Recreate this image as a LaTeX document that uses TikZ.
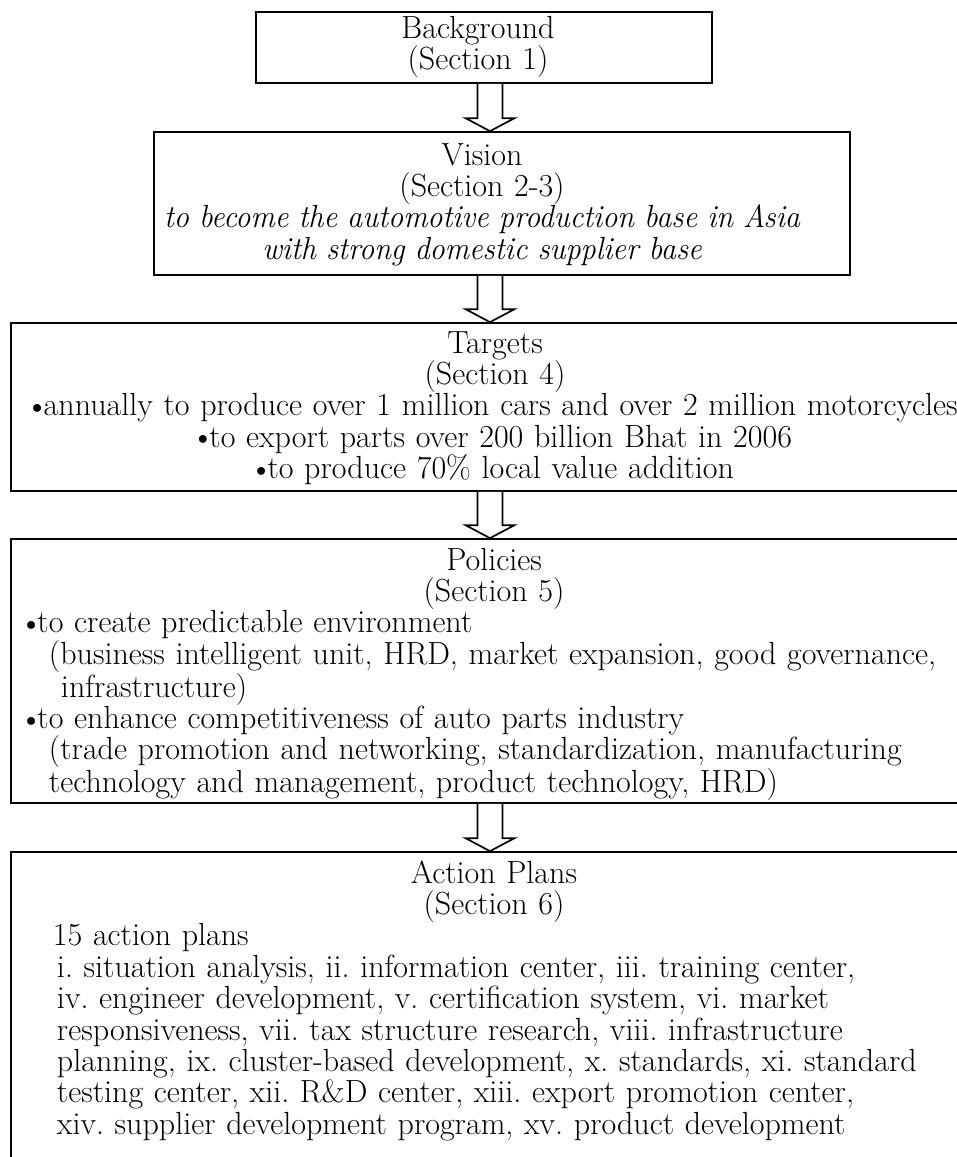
\documentclass[tikz,border=0pt]{standalone}
\usetikzlibrary{calc}
\newlength\reflen
\newcommand\bul{\raisebox{0.08em}{\scalebox{0.82}{$\bullet$}}\hspace{0.04em}}
\newcommand\itl[1]{\scalebox{0.946}[1]{\itshape #1}}
\newcommand\blockarrow[2]{%
  \draw[blockarr] ($(#1)+(-12.5,0)$) -- ($(#2)+(-12.5,-13)$) -- ($(#2)+(-24.5,-13)$)
    -- (#2) -- ($(#2)+(24.5,-13)$) -- ($(#2)+(12.5,-13)$) -- ($(#1)+(12.5,0)$);}
\begin{document}
\frenchspacing
\settowidth\reflen{\fontsize{20}{20}\selectfont annually to produce over 1 million cars and over 2 million motorcycles}
\pgfmathsetmacro\fsz{(903/\reflen)*20}
\begin{tikzpicture}[x=1pt,y=-1pt,
  box/.style={draw=black, line width=1.7pt, inner sep=0pt, rectangle},
  blockarr/.style={draw=black, fill=white, line width=1.7pt, line join=miter},
  txt/.style={font=\fontsize{\fsz}{31.4}\selectfont\frenchspacing, inner sep=0pt, anchor=base}]
\useasboundingbox (0,0) rectangle (957,1157);
\clip (0,0) rectangle (957,1157);
\fill[white] (0,0) rectangle (957,1157);
% boxes
\node[box, minimum width=456pt, minimum height=71pt] (bg) at (484,47.5) {};
\node[box, minimum width=696pt, minimum height=143pt] (vis) at (502,203.5) {};
\node[box, minimum width=966pt, minimum height=168pt] (tgt) at (494,407) {};
\node[box, minimum width=966pt, minimum height=264pt] (pol) at (494,671) {};
\node[box, minimum width=966pt, minimum height=340pt] (act) at (494,1022) {};
% texts
\node[txt, text width=440pt, align=center] (bgt) at (478,38) {Background\\(Section 1)};
\node[txt, text width=690pt, align=center] (vist) at (482,165) {Vision\\(Section 2-3)\\\itl{to become the automotive production base in Asia}\\\itl{with strong domestic supplier base}};
\node[txt, text width=960pt, align=center] (tgtt) at (495,353) {Targets\\(Section 4)\\\bul annually to produce over 1 million cars and over 2 million motorcycles\\\bul to export parts over 200 billion Bhat in 2006\\\bul to produce 70\% local value addition};
\node[txt, text width=966pt] (polt) at (494,570) {{\centering Policies\\(Section 5)\par}\raggedright
\hspace*{15pt}\bul to create predictable environment\\
\hspace*{38pt}(business intelligent unit, HRD, market expansion, good governance,\\
\hspace*{50pt}infrastructure)\\
\hspace*{15pt}\bul to enhance competitiveness of auto parts industry\\
\hspace*{38pt}(trade promotion and networking, standardization, manufacturing\\
\hspace*{38pt}technology and management, product technology, HRD)};
\node[txt, text width=966pt] (actt) at (494,883) {{\centering Action Plans\\(Section 6)\par}\raggedright
\hspace*{42pt}15 action plans\\
\hspace*{46pt}i. situation analysis, ii. information center, iii. training center,\\
\hspace*{46pt}iv. engineer development, v. certification system, vi. market\\
\hspace*{46pt}responsiveness, vii. tax structure research, viii. infrastructure\\
\hspace*{46pt}planning, ix. cluster-based development, x. standards, xi. standard\\
\hspace*{46pt}testing center, xii. R\&D center, xiii. export promotion center,\\
\hspace*{46pt}xiv. supplier development program, xv. product development};
% arrows
\coordinate (ax) at (490,0);
\coordinate (a1s) at (bg.south -| ax);  \coordinate (a1e) at (vis.north -| ax);
\coordinate (a2s) at (vis.south -| ax); \coordinate (a2e) at (tgt.north -| ax);
\coordinate (a3s) at (tgt.south -| ax); \coordinate (a3e) at (pol.north -| ax);
\coordinate (a4s) at (pol.south -| ax); \coordinate (a4e) at (act.north -| ax);
\blockarrow{a1s}{a1e}
\blockarrow{a2s}{a2e}
\blockarrow{a3s}{a3e}
\blockarrow{a4s}{a4e}
\end{tikzpicture}
\end{document}
